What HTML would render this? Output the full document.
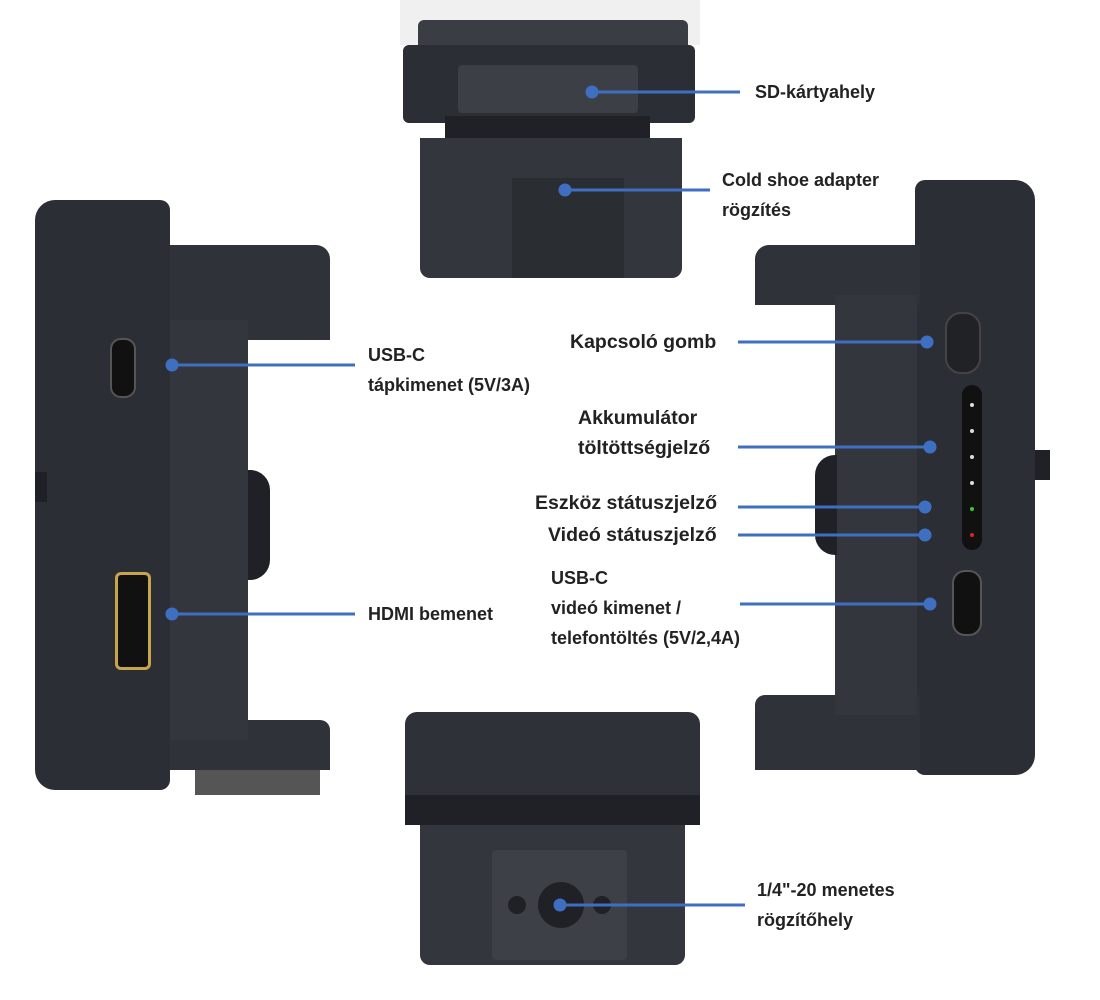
<!DOCTYPE html>
<html><head><meta charset="utf-8"><style>
body{margin:0;width:1100px;height:1000px;background:#fff;position:relative;overflow:hidden;font-family:"Liberation Sans",sans-serif}
.a{position:absolute}
.d{background:#2b2e34}
.d2{background:#1f2126}
.l{position:absolute;font-size:18px;font-weight:bold;color:#222;line-height:30px;white-space:nowrap}
.m{font-size:19.5px}
svg{position:absolute;left:0;top:0}
</style></head><body>
<!-- top device -->
<div class="a" style="left:400px;top:0;width:300px;height:45px;background:#f0f0f0"></div>
<div class="a" style="left:418px;top:20px;width:270px;height:30px;background:#3a3d43;border-radius:6px 6px 0 0"></div>
<div class="a d" style="left:403px;top:45px;width:292px;height:78px;border-radius:6px"></div>
<div class="a" style="left:458px;top:65px;width:180px;height:48px;background:#3c3f45;border-radius:4px"></div>
<div class="a d2" style="left:445px;top:116px;width:205px;height:24px"></div>
<div class="a d" style="left:420px;top:138px;width:262px;height:140px;border-radius:0 0 10px 10px;background:#33363c"></div>
<div class="a" style="left:512px;top:178px;width:112px;height:100px;background:#2a2d32"></div>
<!-- left device -->
<div class="a d" style="left:35px;top:200px;width:135px;height:590px;border-radius:20px 10px 10px 20px"></div>
<div class="a" style="left:170px;top:245px;width:160px;height:95px;background:#2f3238;border-radius:0 14px 0 0"></div>
<div class="a" style="left:170px;top:720px;width:160px;height:50px;background:#2f3238;border-radius:0 10px 0 0"></div>
<div class="a" style="left:170px;top:320px;width:78px;height:420px;background:#33363c"></div>
<div class="a d2" style="left:248px;top:470px;width:22px;height:110px;border-radius:0 20px 20px 0"></div>
<div class="a" style="left:195px;top:770px;width:125px;height:25px;background:#555"></div>
<div class="a d2" style="left:35px;top:472px;width:12px;height:30px"></div>
<div class="a" style="left:110px;top:338px;width:22px;height:56px;border:2px solid #555;border-radius:11px;background:#111"></div>
<div class="a" style="left:115px;top:572px;width:30px;height:92px;border:3px solid #c9a54a;border-radius:6px;background:#111"></div>
<!-- right device -->
<div class="a d" style="left:915px;top:180px;width:120px;height:595px;border-radius:10px 20px 20px 10px"></div>
<div class="a" style="left:755px;top:245px;width:165px;height:60px;background:#2f3238;border-radius:14px 0 0 0"></div>
<div class="a" style="left:755px;top:695px;width:165px;height:75px;background:#2f3238;border-radius:10px 0 0 0"></div>
<div class="a" style="left:835px;top:295px;width:82px;height:420px;background:#33363c"></div>
<div class="a d2" style="left:815px;top:455px;width:22px;height:100px;border-radius:20px 0 0 20px"></div>
<div class="a d2" style="left:1035px;top:450px;width:15px;height:30px"></div>
<div class="a" style="left:945px;top:312px;width:32px;height:58px;border:2px solid #444;border-radius:16px;background:#202226"></div>
<div class="a" style="left:962px;top:385px;width:20px;height:165px;border-radius:10px;background:#111"></div>
<div class="a" style="left:970px;top:403px;width:4px;height:4px;border-radius:50%;background:#ddd;box-shadow:0 26px 0 #ddd,0 52px 0 #ddd,0 78px 0 #ddd,0 104px 0 #3c3,0 130px 0 #d22"></div>
<div class="a" style="left:952px;top:570px;width:26px;height:62px;border:2px solid #555;border-radius:13px;background:#111"></div>
<!-- bottom device -->
<div class="a d" style="left:405px;top:712px;width:295px;height:105px;border-radius:12px 12px 0 0;background:#2e3137"></div>
<div class="a d2" style="left:405px;top:795px;width:295px;height:30px"></div>
<div class="a d" style="left:420px;top:825px;width:265px;height:140px;border-radius:0 0 10px 10px;background:#33363c"></div>
<div class="a" style="left:492px;top:850px;width:135px;height:110px;background:#3d4047;border-radius:4px"></div>
<div class="a d2" style="left:538px;top:882px;width:46px;height:46px;border-radius:50%"></div>
<div class="a d2" style="left:508px;top:896px;width:18px;height:18px;border-radius:50%"></div>
<div class="a d2" style="left:593px;top:896px;width:18px;height:18px;border-radius:50%"></div>
<svg width="1100" height="1000">
<g stroke="#3f6fc0" stroke-width="3" fill="#3f6fc0">
<line x1="592" y1="92" x2="740" y2="92"/><circle cx="592" cy="92" r="5"/>
<line x1="565" y1="190" x2="710" y2="190"/><circle cx="565" cy="190" r="5"/>
<line x1="172" y1="365" x2="355" y2="365"/><circle cx="172" cy="365" r="5"/>
<line x1="172" y1="614" x2="355" y2="614"/><circle cx="172" cy="614" r="5"/>
<line x1="738" y1="342" x2="927" y2="342"/><circle cx="927" cy="342" r="5"/>
<line x1="738" y1="447" x2="930" y2="447"/><circle cx="930" cy="447" r="5"/>
<line x1="738" y1="507" x2="925" y2="507"/><circle cx="925" cy="507" r="5"/>
<line x1="738" y1="535" x2="925" y2="535"/><circle cx="925" cy="535" r="5"/>
<line x1="740" y1="604" x2="930" y2="604"/><circle cx="930" cy="604" r="5"/>
<line x1="560" y1="905" x2="745" y2="905"/><circle cx="560" cy="905" r="5"/>
</g></svg>
<div class="l" style="left:755px;top:77px">SD-kártyahely</div>
<div class="l" style="left:722px;top:165px">Cold shoe adapter<br>rögzítés</div>
<div class="l" style="left:368px;top:340px">USB-C<br>tápkimenet (5V/3A)</div>
<div class="l" style="left:368px;top:599px">HDMI bemenet</div>
<div class="l m" style="left:570px;top:327px">Kapcsoló gomb</div>
<div class="l m" style="left:578px;top:403px">Akkumulátor<br>töltöttségjelző</div>
<div class="l m" style="left:535px;top:488px">Eszköz státuszjelző</div>
<div class="l m" style="left:548px;top:520px">Videó státuszjelző</div>
<div class="l" style="left:551px;top:563px">USB-C<br>videó kimenet /<br>telefontöltés (5V/2,4A)</div>
<div class="l" style="left:757px;top:875px">1/4"-20 menetes<br>rögzítőhely</div>
</body></html>
